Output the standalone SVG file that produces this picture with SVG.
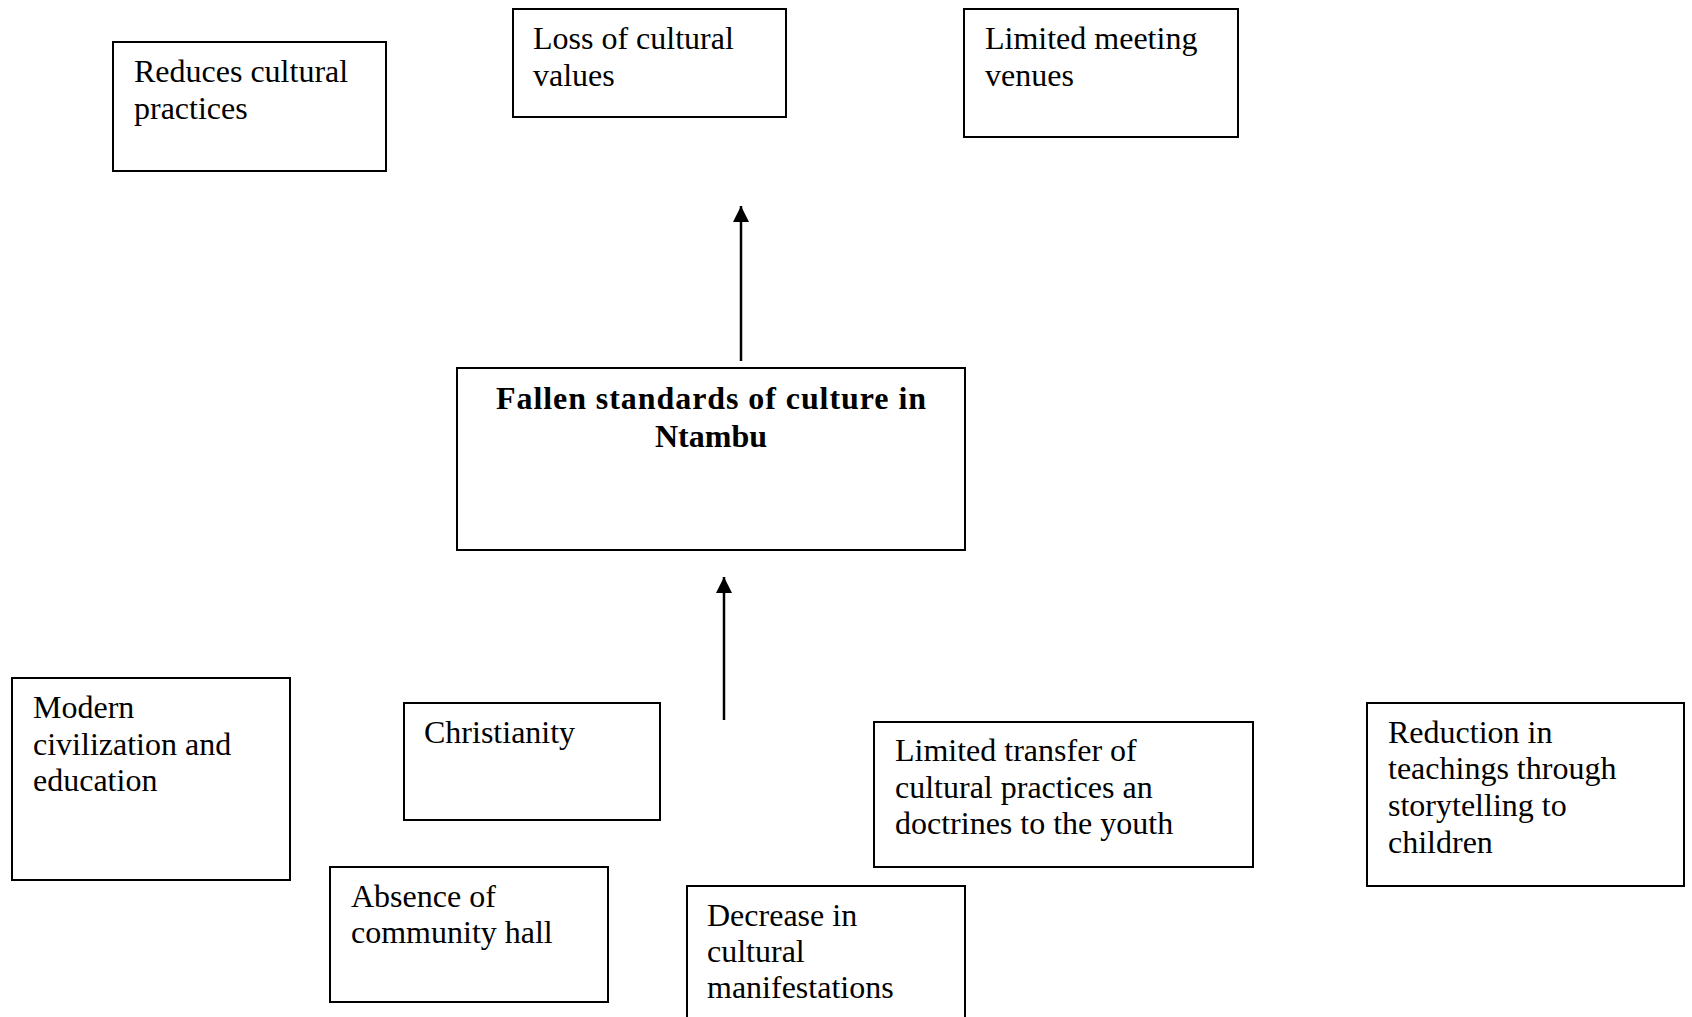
<svg xmlns="http://www.w3.org/2000/svg" width="1692" height="1017" viewBox="0 0 1692 1017">
  <style>
    .box { fill: #ffffff; stroke: #000000; stroke-width: 2; }
    .lbl { font-family: "Liberation Serif", "Times New Roman", serif; font-size: 32px; fill: #000000; }
    .core { font-family: "Liberation Serif", "Times New Roman", serif; font-size: 32px; font-weight: bold; fill: #000000; }
    .link { stroke: #000000; stroke-width: 2.5; fill: none; }
  </style>
  <defs>
    <marker id="head" viewBox="0 0 16 16" refX="16" refY="8" markerWidth="16" markerHeight="16" markerUnits="userSpaceOnUse" orient="auto">
      <path d="M0,0 L16,8 L0,16 z" fill="#000000"/>
    </marker>
  </defs>
  <rect width="1692" height="1017" fill="#ffffff"/>

  <!-- effects (top row) -->
  <g id="reduces-practices">
    <rect class="box" x="113" y="42" width="273" height="129"/>
    <text class="lbl" x="134" y="82">Reduces cultural</text>
    <text class="lbl" x="134" y="119">practices</text>
  </g>
  <g id="loss-values">
    <rect class="box" x="513" y="9" width="273" height="108"/>
    <text class="lbl" x="533" y="49">Loss of cultural</text>
    <text class="lbl" x="533" y="86">values</text>
  </g>
  <g id="limited-venues">
    <rect class="box" x="964" y="9" width="274" height="128"/>
    <text class="lbl" x="985" y="49">Limited meeting</text>
    <text class="lbl" x="985" y="86">venues</text>
  </g>

  <!-- core problem -->
  <g id="core-problem">
    <rect class="box" x="457" y="368" width="508" height="182"/>
    <text class="core" x="711" y="409" text-anchor="middle" textLength="430" lengthAdjust="spacing">Fallen standards of culture in</text>
    <text class="core" x="711" y="447" text-anchor="middle">Ntambu</text>
  </g>

  <!-- causes (bottom area) -->
  <g id="modern-civilization">
    <rect class="box" x="12" y="678" width="278" height="202"/>
    <text class="lbl" x="33" y="718">Modern</text>
    <text class="lbl" x="33" y="755">civilization and</text>
    <text class="lbl" x="33" y="791">education</text>
  </g>
  <g id="christianity">
    <rect class="box" x="404" y="703" width="256" height="117"/>
    <text class="lbl" x="424" y="743">Christianity</text>
  </g>
  <g id="absence-hall">
    <rect class="box" x="330" y="867" width="278" height="135"/>
    <text class="lbl" x="351" y="907">Absence of</text>
    <text class="lbl" x="351" y="943">community hall</text>
  </g>
  <g id="decrease-manifestations">
    <rect class="box" x="687" y="886" width="278" height="140"/>
    <text class="lbl" x="707" y="926">Decrease in</text>
    <text class="lbl" x="707" y="962">cultural</text>
    <text class="lbl" x="707" y="998">manifestations</text>
  </g>
  <g id="limited-transfer">
    <rect class="box" x="874" y="722" width="379" height="145"/>
    <text class="lbl" x="895" y="761">Limited transfer of</text>
    <text class="lbl" x="895" y="798">cultural practices an</text>
    <text class="lbl" x="895" y="834">doctrines to the youth</text>
  </g>
  <g id="reduction-storytelling">
    <rect class="box" x="1367" y="703" width="317" height="183"/>
    <text class="lbl" x="1388" y="743">Reduction in</text>
    <text class="lbl" x="1388" y="779">teachings through</text>
    <text class="lbl" x="1388" y="816">storytelling to</text>
    <text class="lbl" x="1388" y="853">children</text>
  </g>

  <!-- connectors -->
  <g id="connectors">
    <line class="link" x1="741" y1="361" x2="741" y2="206" marker-end="url(#head)"/>
    <line class="link" x1="724" y1="720" x2="724" y2="577" marker-end="url(#head)"/>
  </g>
</svg>
